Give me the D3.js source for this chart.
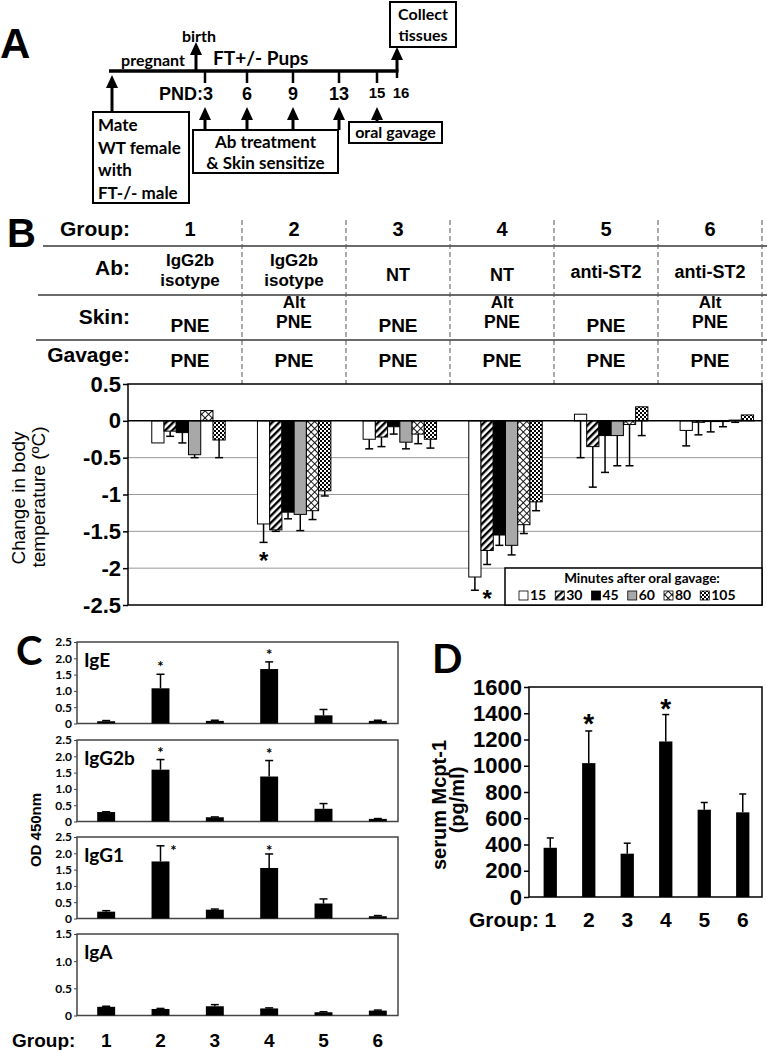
<!DOCTYPE html>
<html><head><meta charset="utf-8">
<script src="https://cdn.jsdelivr.net/npm/d3@7"></script>
<style>body{margin:0;background:#fff} svg{display:block}</style>
</head><body>
<svg id="fig" width="767" height="1050"></svg>
<script>
// ================= DATA =================
const timelineDays = ["3","6","9","13","15","16"];
const groups = ["1","2","3","4","5","6"];
const abLabels = [["IgG2b","isotype"],["IgG2b","isotype"],["NT"],["NT"],["anti-ST2"],["anti-ST2"]];
const skinLabels = [["PNE"],["Alt","PNE"],["PNE"],["Alt","PNE"],["PNE"],["Alt","PNE"]];
const gavageLabels = ["PNE","PNE","PNE","PNE","PNE","PNE"];
const minutes = ["15","30","45","60","80","105"];
// change in body temperature, rows = groups, cols = minutes
const tempChange = [
  [-0.30,-0.14,-0.16,-0.46, 0.14,-0.26],
  [-1.40,-1.48,-1.24,-1.27,-1.22,-0.95],
  [-0.25,-0.22,-0.08,-0.29,-0.18,-0.25],
  [-2.12,-1.76,-1.55,-1.69,-1.41,-1.10],
  [ 0.09,-0.35,-0.20,-0.20,-0.05, 0.19],
  [-0.13,-0.02,-0.01,-0.01, 0.01, 0.08]];
const tempErr = [
  [0.00,0.07,0.14,0.04,0.03,0.24],
  [0.25,0.02,0.09,0.22,0.12,0.07],
  [0.13,0.13,0.10,0.09,0.13,0.12],
  [0.18,0.19,0.14,0.13,0.12,0.12],
  [0.59,0.55,0.50,0.41,0.56,0.39],
  [0.21,0.17,0.14,0.07,0.03,0.04]];
const tempTicks = [0.5,0,-0.5,-1,-1.5,-2,-2.5];
const tempStars = [["2","15",-1.85],["4","30",-2.36]];

const isotypes = ["IgE","IgG2b","IgG1","IgA"];
const igE      = [0.07,1.08,0.08,1.67,0.25,0.08];
const igEErr   = [0.02,0.43,0.02,0.22,0.18,0.02];
const igG2b    = [0.29,1.59,0.13,1.38,0.39,0.08];
const igG2bErr = [0.01,0.31,0.01,0.49,0.16,0.01];
const igG1     = [0.21,1.75,0.27,1.55,0.46,0.07];
const igG1Err  = [0.03,0.48,0.02,0.43,0.14,0.02];
const igA      = [0.16,0.12,0.17,0.13,0.06,0.09];
const igAErr   = [0.01,0.01,0.03,0.01,0.01,0.01];
const odTicks  = [0,0.5,1.0,1.5,2.0,2.5];
const odTicksA = [0,0.5,1.0,1.5];
const odStars  = [["IgE","2",1.82,0],["IgE","4",2.20,0],["IgG2b","2",2.20,0],["IgG2b","4",2.17,0],["IgG1","2",2.16,13],["IgG1","4",2.16,0]];

const mcpt1    = [375,1020,330,1185,665,645];
const mcpt1Err = [75,245,80,205,55,140];
const mcptTicks = [0,200,400,600,800,1000,1200,1400,1600];
const mcptStars = [["2",1364],["4",1478]];

// ================= SETUP =================
const ARIAL = "'Liberation Sans', Arial, sans-serif";
const CAL = "Lato, 'Open Sans', sans-serif";
const svg = d3.select("#fig");
const defs = svg.append("defs");

function txt(g, x, y, s, size, opts = {}) {
  return g.append("text").attr("x", x).attr("y", y).text(s)
    .attr("font-family", opts.font || ARIAL).attr("font-size", size)
    .attr("font-weight", opts.weight || "bold").attr("text-anchor", opts.anchor || "start")
    .attr("fill", "#000");
}

// ================= PANEL A =================
const A = svg.append("g");
txt(A, 0, 58, "A", 42);
const dayX = d3.scaleOrdinal().domain(["mate","birth"].concat(timelineDays)).range([112,196,205,247,293,339,377,397]);
function arrow(g, x, yFrom, yTip) {
  g.append("line").attr("x1", x).attr("x2", x).attr("y1", yFrom).attr("y2", yTip + 8)
    .attr("stroke", "#000").attr("stroke-width", 3);
  g.append("path").attr("d", `M${x-6},${yTip+13}L${x+6},${yTip+13}L${x},${yTip}Z`).attr("fill", "#000");
}
A.append("line").attr("x1", 109).attr("x2", dayX("16") + 1.5).attr("y1", 71).attr("y2", 71)
  .attr("stroke", "#000").attr("stroke-width", 3.5);
timelineDays.forEach(d => {
  A.append("line").attr("x1", dayX(d)).attr("x2", dayX(d)).attr("y1", 71).attr("y2", d === "16" ? 78 : 83)
    .attr("stroke", "#000").attr("stroke-width", 2.5);
  const small = (d === "15" || d === "16");
  if (d === "3") txt(A, dayX(d) + 8, 100, "PND:3", 18, {anchor: "end"});
  else txt(A, dayX(d) + (d === "16" ? 4 : 0), small ? 98 : 100, d, small ? 15 : 18, {anchor: "middle"});
});
arrow(A, dayX("mate"), 112, 75);
arrow(A, dayX("birth"), 71, 42);
arrow(A, dayX("16"), 71, 47);
["3","6","9","13"].forEach(d => arrow(A, dayX(d), 130, 107));
arrow(A, dayX("15"), 122, 107);
txt(A, 153, 66, "pregnant", 16, {font: CAL, anchor: "middle"});
txt(A, 199, 42, "birth", 16, {font: CAL, anchor: "middle"});
txt(A, 213, 65, "FT+/- Pups", 19, {font: CAL});
function box(g, x, y, w, h) {
  g.append("rect").attr("x", x).attr("y", y).attr("width", w).attr("height", h)
    .attr("fill", "#fff").attr("stroke", "#000").attr("stroke-width", 2);
}
box(A, 93, 112, 96, 91);
["Mate","WT female","with","FT-/- male"].forEach((s, i) => txt(A, 98, 131 + i * 22.5, s, 17, {font: CAL}));
box(A, 193, 130, 145, 43);
txt(A, 265.5, 148, "Ab treatment", 17, {font: CAL, anchor: "middle"});
txt(A, 265.5, 169, "& Skin sensitize", 17, {font: CAL, anchor: "middle"});
box(A, 349, 122, 93, 21);
txt(A, 395.5, 138, "oral gavage", 16, {font: CAL, anchor: "middle"});
box(A, 390, 2, 66, 45);
txt(A, 423, 20, "Collect", 16, {font: CAL, anchor: "middle"});
txt(A, 423, 41, "tissues", 16, {font: CAL, anchor: "middle"});

// ================= PANEL B : TABLE =================
const B = svg.append("g");
txt(B, 7, 247, "B", 40);
const tX = d3.scaleBand().domain(groups).range([138, 762]);
const tc = g => tX(g) + tX.bandwidth() / 2;
[["Group:", 236], ["Ab:", 275], ["Skin:", 324], ["Gavage:", 362]].forEach(([s, y]) => txt(B, 130, y, s, 21, {anchor: "end"}));
[[246, 43], [295, 38], [340, 36]].forEach(([y, x0]) =>
  B.append("line").attr("x1", x0).attr("x2", 767).attr("y1", y).attr("y2", y).attr("stroke", "#6a6a6a").attr("stroke-width", 2));
groups.forEach((g, i) => {
  B.append("line").attr("x1", tX(g) + tX.bandwidth()).attr("x2", tX(g) + tX.bandwidth())
    .attr("y1", 220).attr("y2", 384).attr("stroke", "#555").attr("stroke-width", 1).attr("stroke-dasharray", "5,3");
  txt(B, tc(g), 236, g, 20, {anchor: "middle"});
  const ab = abLabels[i];
  if (ab.length === 2) { txt(B, tc(g), 266, ab[0], 17, {anchor: "middle"}); txt(B, tc(g), 286, ab[1], 17, {anchor: "middle"}); }
  else txt(B, tc(g), ab[0] === "NT" ? 281 : 278, ab[0], 18, {anchor: "middle"});
  const sk = skinLabels[i];
  if (sk.length === 2) { txt(B, tc(g), 308, sk[0], 17, {anchor: "middle"}); txt(B, tc(g), 328, sk[1], 17.5, {anchor: "middle"}); }
  else txt(B, tc(g), 332, sk[0], 19, {anchor: "middle"});
  txt(B, tc(g), 367, gavageLabels[i], 19, {anchor: "middle"});
});

// ================= PANEL B : CHART =================
function pat(id, w, h, rot) {
  const p = defs.append("pattern").attr("id", id).attr("patternUnits", "userSpaceOnUse").attr("width", w).attr("height", h);
  if (rot) p.attr("patternTransform", `rotate(${rot})`);
  p.append("rect").attr("width", w).attr("height", h).attr("fill", "#fff");
  return p;
}
pat("p30", 5, 5, 45).append("rect").attr("x", 0).attr("y", 0).attr("width", 2.4).attr("height", 5).attr("fill", "#000");
const p80 = pat("p80", 5, 5, 45);
p80.append("rect").attr("x", 0).attr("y", 0).attr("width", 0.9).attr("height", 5).attr("fill", "#000");
p80.append("rect").attr("x", 0).attr("y", 0).attr("width", 5).attr("height", 0.9).attr("fill", "#000");
const p105 = pat("p105", 4, 4, 0);
p105.append("rect").attr("x", 0).attr("y", 0).attr("width", 2).attr("height", 2).attr("fill", "#000");
p105.append("rect").attr("x", 2).attr("y", 2).attr("width", 2).attr("height", 2).attr("fill", "#000");
const minuteFill = d3.scaleOrdinal().domain(minutes).range(["#fff","url(#p30)","#000","#a8a8a8","url(#p80)","url(#p105)"]);

const bX0 = d3.scaleBand().domain(groups).range([128, 762]);
const bX1 = d3.scaleBand().domain(minutes).range([bX0.bandwidth() * 0.225, bX0.bandwidth() * 0.92]);
const bY = d3.scaleLinear().domain([-2.5, 0.5]).range([605, 384]);

const BC = svg.append("g");
BC.append("rect").attr("x", 128).attr("y", bY(0.5)).attr("width", 634).attr("height", bY(-2.5) - bY(0.5)).attr("fill", "#fff");
tempTicks.filter(t => t < 0 && t > -2.5).forEach(t =>
  BC.append("line").attr("x1", 128).attr("x2", 762).attr("y1", bY(t)).attr("y2", bY(t)).attr("stroke", "#999").attr("stroke-width", 1));
const bAxis = BC.append("g").attr("transform", "translate(128,0)")
  .call(d3.axisLeft(bY).tickValues(tempTicks).tickFormat(d => String(d)).tickSize(5).tickPadding(2));
bAxis.select(".domain").remove();
bAxis.selectAll("line").attr("stroke", "#000").attr("stroke-width", 1.5);
bAxis.selectAll("text").attr("font-family", ARIAL).attr("font-size", 22).attr("font-weight", "bold").attr("fill", "#000");

groups.forEach((g, gi) => {
  minutes.forEach((m, mi) => {
    const v = tempChange[gi][mi], e = tempErr[gi][mi];
    const x = bX0(g) + bX1(m), w = bX1.bandwidth();
    if (e > 0) {
      BC.append("line").attr("x1", x + w / 2).attr("x2", x + w / 2).attr("y1", bY(v)).attr("y2", bY(v - e)).attr("stroke", "#000").attr("stroke-width", 1.5);
      BC.append("line").attr("x1", x + w / 2 - 4).attr("x2", x + w / 2 + 4).attr("y1", bY(v - e)).attr("y2", bY(v - e)).attr("stroke", "#000").attr("stroke-width", 1.5);
    }
    BC.append("rect").attr("x", x).attr("y", bY(Math.max(v, 0))).attr("width", w)
      .attr("height", Math.abs(bY(v) - bY(0))).attr("fill", minuteFill(m)).attr("stroke", "#000").attr("stroke-width", 1);
  });
});
BC.append("line").attr("x1", 128).attr("x2", 762).attr("y1", bY(0)).attr("y2", bY(0)).attr("stroke", "#000").attr("stroke-width", 1.5);
tempStars.forEach(([g, m, lv]) => txt(BC, bX0(g) + bX1(m) + bX1.bandwidth() / 2, bY(lv) + 12, "*", 24, {anchor: "middle"}));
BC.append("rect").attr("x", 128).attr("y", bY(0.5)).attr("width", 634).attr("height", bY(-2.5) - bY(0.5))
  .attr("fill", "none").attr("stroke", "#000").attr("stroke-width", 1.5);
const yl = BC.append("g").attr("font-family", ARIAL).attr("font-size", 19).attr("text-anchor", "middle");
yl.append("text").attr("transform", "translate(25,498) rotate(-90)").text("Change in body");
yl.append("text").attr("transform", "translate(45,497) rotate(-90)").text("temperature (ºC)");
const lg = BC.append("g");
lg.append("rect").attr("x", 505).attr("y", 568).attr("width", 257).attr("height", 37).attr("fill", "#fff").attr("stroke", "#000").attr("stroke-width", 1.5);
txt(lg, 642, 583, "Minutes after oral gavage:", 13.5, {font: CAL, anchor: "middle"});
let lx = 519;
minutes.forEach(m => {
  lg.append("rect").attr("x", lx).attr("y", 591).attr("width", 9).attr("height", 9).attr("fill", minuteFill(m)).attr("stroke", "#000").attr("stroke-width", 0.8);
  const t = txt(lg, lx + 11, 600, m, 14, {font: CAL});
  lx += 11 + t.node().getComputedTextLength() + 9;
});

// ================= PANEL C =================
const C = svg.append("g");
txt(C, 16, 665, "C", 40, {font: CAL});
const cVals = {IgE: igE, IgG2b: igG2b, IgG1: igG1, IgA: igA};
const cErrs = {IgE: igEErr, IgG2b: igG2bErr, IgG1: igG1Err, IgA: igAErr};
const cTop = d3.scaleOrdinal().domain(isotypes).range([642, 740, 837, 934]);
const cH = 81.5;
const cX = d3.scaleBand().domain(groups).range([79, 405]).paddingInner(0.67).paddingOuter(0.335);
const cYs = {};
isotypes.forEach(iso => {
  const top = cTop(iso);
  const ticks = iso === "IgA" ? odTicksA : odTicks;
  const y = d3.scaleLinear().domain([0, d3.max(ticks)]).range([top + cH, top]);
  cYs[iso] = y;
  const g = C.append("g");
  g.append("rect").attr("x", 77).attr("y", top).attr("width", 321).attr("height", cH)
    .attr("fill", "none").attr("stroke", "#444").attr("stroke-width", 1.5);
  const ax = g.append("g").attr("transform", "translate(77,0)")
    .call(d3.axisLeft(y).tickValues(ticks).tickFormat(d => d === 0 ? "0" : d.toFixed(1)).tickSize(3).tickPadding(2));
  ax.select(".domain").remove();
  ax.selectAll("line").attr("stroke", "#444");
  ax.selectAll("text").attr("font-family", CAL).attr("font-size", 12).attr("font-weight", "bold").attr("fill", "#000");
  txt(g, 84, top + 25, iso, 19, {font: CAL});
  const vals = cVals[iso], errs = cErrs[iso];
  groups.forEach((gr, i) => {
    const cx = cX(gr) + cX.bandwidth() / 2;
    g.append("line").attr("x1", cx).attr("x2", cx).attr("y1", y(vals[i])).attr("y2", y(vals[i] + errs[i])).attr("stroke", "#000").attr("stroke-width", 1.5);
    g.append("line").attr("x1", cx - 4).attr("x2", cx + 4).attr("y1", y(vals[i] + errs[i])).attr("y2", y(vals[i] + errs[i])).attr("stroke", "#000").attr("stroke-width", 1.5);
    g.append("rect").attr("x", cX(gr)).attr("y", y(vals[i])).attr("width", cX.bandwidth())
      .attr("height", y(0) - y(vals[i])).attr("fill", "#000");
  });
});
odStars.forEach(([iso, gr, lv, dx]) =>
  txt(C, cX(gr) + cX.bandwidth() / 2 + dx, cYs[iso](lv) + 8, "*", 15, {font: CAL, anchor: "middle"}));
C.append("text").attr("transform", "translate(41,830) rotate(-90)").attr("text-anchor", "middle")
  .attr("font-family", ARIAL).attr("font-weight", "bold").attr("font-size", 15).text("OD 450nm");
txt(C, 12, 1047, "Group:", 19);
groups.forEach(gr => txt(C, cX(gr) + cX.bandwidth() / 2, 1047, gr, 19, {anchor: "middle"}));

// ================= PANEL D =================
const D = svg.append("g");
txt(D, 432, 673, "D", 40, {font: CAL});
const dX = d3.scaleBand().domain(groups).range([531, 762]).paddingInner(0.655).paddingOuter(0.3275);
const dY = d3.scaleLinear().domain([0, 1600]).range([897, 687]);
const dax = D.append("g").attr("transform", "translate(529,0)")
  .call(d3.axisLeft(dY).tickValues(mcptTicks).tickFormat(d => String(d)).tickSize(5).tickPadding(2));
dax.select(".domain").remove();
dax.selectAll("line").attr("stroke", "#000").attr("stroke-width", 1.5);
dax.selectAll("text").attr("font-family", ARIAL).attr("font-size", 22).attr("font-weight", "bold").attr("fill", "#000");
groups.forEach((gr, i) => {
  const cx = dX(gr) + dX.bandwidth() / 2;
  D.append("line").attr("x1", cx).attr("x2", cx).attr("y1", dY(mcpt1[i])).attr("y2", dY(mcpt1[i] + mcpt1Err[i])).attr("stroke", "#000").attr("stroke-width", 1.5);
  D.append("line").attr("x1", cx - 3.5).attr("x2", cx + 3.5).attr("y1", dY(mcpt1[i] + mcpt1Err[i])).attr("y2", dY(mcpt1[i] + mcpt1Err[i])).attr("stroke", "#000").attr("stroke-width", 1.5);
  D.append("rect").attr("x", dX(gr)).attr("y", dY(mcpt1[i])).attr("width", dX.bandwidth()).attr("height", dY(0) - dY(mcpt1[i])).attr("fill", "#000");
  txt(D, cx, 927, gr, 21, {anchor: "middle"});
});
mcptStars.forEach(([gr, lv]) => txt(D, dX(gr) + dX.bandwidth() / 2, dY(lv) + 15, "*", 28, {anchor: "middle"}));
D.append("rect").attr("x", 529).attr("y", 687).attr("width", 233).attr("height", 210).attr("fill", "none").attr("stroke", "#000").attr("stroke-width", 1.5);
txt(D, 539, 927, "Group:", 21, {anchor: "end"});
const dyl = D.append("g").attr("font-family", ARIAL).attr("font-size", 20).attr("font-weight", "bold").attr("text-anchor", "middle");
dyl.append("text").attr("transform", "translate(446,805) rotate(-90)").text("serum Mcpt-1");
dyl.append("text").attr("transform", "translate(464,800) rotate(-90)").text("(pg/ml)");
</script>
</body></html>
